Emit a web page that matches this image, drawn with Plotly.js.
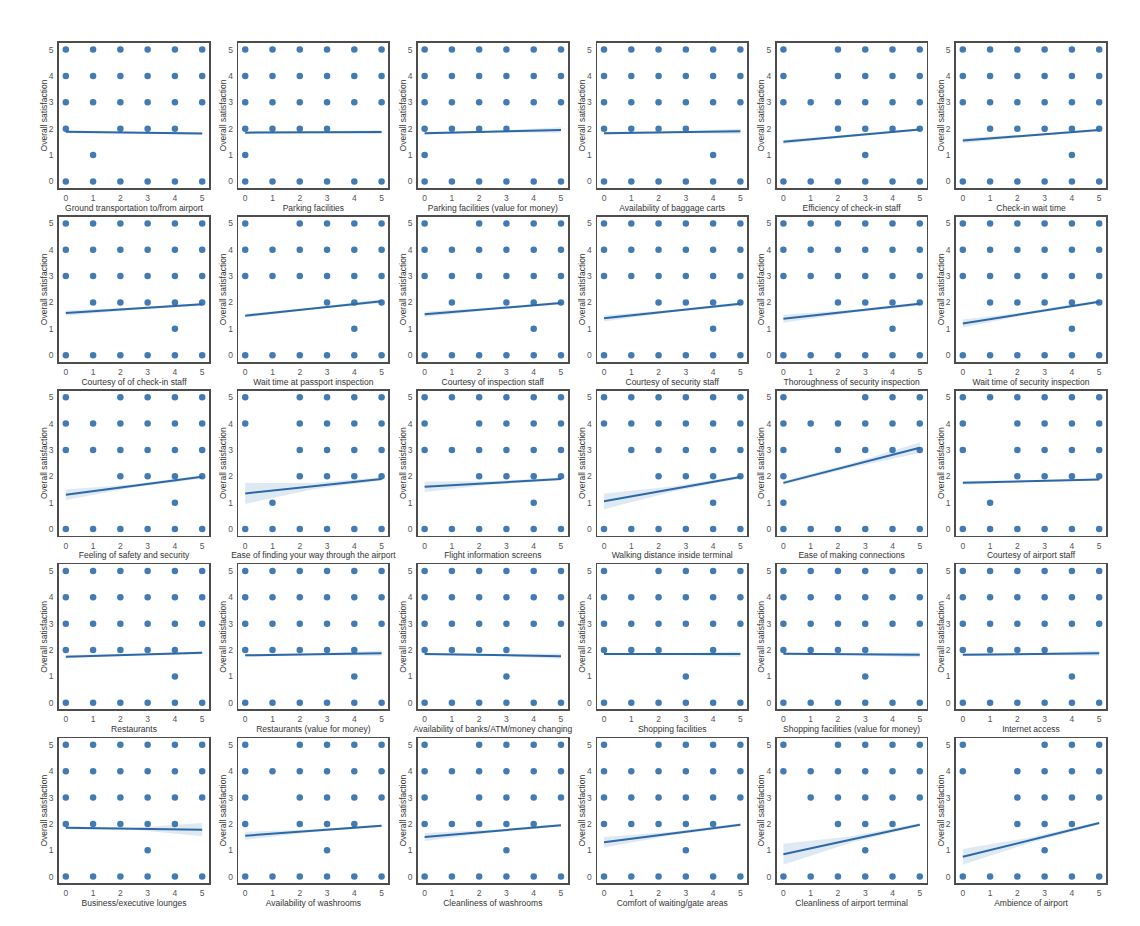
<!DOCTYPE html>
<html>
<head>
<meta charset="utf-8">
<script src="https://cdn.plot.ly/plotly-3.0.1.min.js"></script>
<style>html,body{margin:0;padding:0;background:#fff;}#chart{width:1140px;height:926px;}</style>
</head>
<body>
<div id="chart"></div>
<script>
const features = [
  "Ground transportation to/from airport","Parking facilities","Parking facilities (value for money)","Availability of baggage carts","Efficiency of check-in staff","Check-in wait time",
  "Courtesy of of check-in staff","Wait time at passport inspection","Courtesy of inspection staff","Courtesy of security staff","Thoroughness of security inspection","Wait time of security inspection",
  "Feeling of safety and security","Ease of finding your way through the airport","Flight information screens","Walking distance inside terminal","Ease of making connections","Courtesy of airport staff",
  "Restaurants","Restaurants (value for money)","Availability of banks/ATM/money changing","Shopping facilities","Shopping facilities (value for money)","Internet access",
  "Business/executive lounges","Availability of washrooms","Cleanliness of washrooms","Comfort of waiting/gate areas","Cleanliness of airport terminal","Ambience of airport"
];
const yLabel = "Overall satisfaction";
const ratingLevels = [0,1,2,3,4,5];

// x ratings observed for each overall satisfaction level, per subplot
const xAtY5 = [
  [0,1,2,3,4,5],[0,1,2,3,4,5],[0,1,2,3,4,5],[0,1,2,3,4,5],[0,2,3,4,5],[0,1,2,3,4,5],
  [0,1,2,3,4,5],[0,2,3,4,5],[0,2,3,4,5],[0,1,2,3,4,5],[0,1,2,3,4,5],[0,1,2,3,4,5],
  [0,2,3,4,5],[0,2,3,4,5],[0,1,2,3,4,5],[0,1,2,3,4,5],[0,3,4,5],[0,1,2,3,4,5],
  [0,1,2,3,4,5],[0,1,2,3,4,5],[0,1,2,3,4,5],[0,2,3,4,5],[0,1,2,3,4,5],[0,1,2,3,4,5],
  [0,1,2,3,4,5],[0,2,3,4,5],[0,2,3,4,5],[0,2,3,4,5],[0,2,3,4,5],[0,3,4,5]
];
const xAtY4 = [
  [0,1,2,3,4,5],[0,1,2,3,4,5],[0,1,2,3,4,5],[0,1,2,3,4,5],[0,2,3,4,5],[0,1,2,3,4,5],
  [0,1,2,3,4,5],[0,1,2,3,4,5],[0,1,2,3,4,5],[0,1,2,3,4,5],[0,1,2,3,4,5],[0,1,2,3,4,5],
  [0,1,2,3,4,5],[0,2,3,4,5],[0,2,3,4,5],[0,1,2,3,4,5],[0,1,2,3,4,5],[0,2,3,4,5],
  [0,1,2,3,4,5],[0,1,2,3,4,5],[0,1,2,3,4,5],[0,1,2,3,4,5],[0,1,2,3,4,5],[0,1,2,3,4,5],
  [0,1,2,3,4,5],[0,1,2,3,4,5],[0,1,2,3,4,5],[0,1,2,3,4,5],[0,1,2,3,4,5],[0,2,3,4,5]
];
const xAtY3 = [
  [0,1,2,3,4,5],[0,1,2,3,4,5],[0,1,2,3,4,5],[0,1,2,3,4,5],[0,1,2,3,4,5],[0,1,2,3,4,5],
  [0,1,2,3,4,5],[0,1,2,3,4,5],[0,1,2,3,4,5],[0,1,2,3,4,5],[0,1,2,3,4,5],[0,1,2,3,4,5],
  [0,1,2,3,4,5],[2,3,4,5],[0,1,2,3,4,5],[1,2,3,4,5],[0,2,3,4,5],[0,2,3,4,5],
  [0,1,2,3,4,5],[0,1,2,3,4,5],[0,1,2,3,4,5],[0,1,2,3,4,5],[0,1,2,3,4,5],[0,1,2,3,4,5],
  [0,1,2,3,4,5],[0,2,3,4,5],[0,2,3,4,5],[0,1,2,3,4,5],[1,2,3,4,5],[2,3,4,5]
];
const xAtY2 = [
  [0,2,3,4],[0,1,2,3],[0,1,2,3],[0,1,2,3],[2,3,4,5],[1,2,3,4,5],
  [1,2,3,4,5],[3,4,5],[1,3,4,5],[2,3,4,5],[2,3,4,5],[1,2,3,4,5],
  [2,3,4,5],[2,3,4,5],[2,3,4,5],[2,3,4,5],[0],[2,3,4,5],
  [0,1,2,3,4],[0,1,2,3,4],[0,1,2,3],[0,1,2,4],[0,1,2,3],[0,1,2,3],
  [0,1,2,3,4],[0,2,3,4],[0,1,2,3,4],[0,1,2,3,4],[2,3,4],[2,3,4]
];
const xAtY1 = [
  [1],[0],[0],[4],[3],[4],
  [4],[4],[4],[4],[4],[4],
  [4],[1],[4],[4],[0],[1],
  [4],[4],[3],[3],[3],[4],
  [3],[3],[3],[3],[3],[3]
];
const xAtY0 = Array.from({length:30}, () => [0,1,2,3,4,5]);

// regression fit values at x=0 and x=5
const fitAt0 = [1.88,1.85,1.83,1.83,1.50,1.55, 1.60,1.50,1.55,1.40,1.38,1.20, 1.30,1.35,1.60,1.05,1.75,1.75, 1.75,1.80,1.85,1.85,1.86,1.82, 1.85,1.55,1.50,1.30,0.85,0.75];
const fitAt5 = [1.82,1.87,1.95,1.90,1.97,1.95, 1.93,2.05,1.98,1.95,1.95,2.03, 1.98,1.90,1.90,1.97,3.08,1.88, 1.90,1.88,1.77,1.85,1.82,1.88, 1.78,1.93,1.95,1.97,1.97,2.03];
// confidence band half widths at x=0, 2.5, 5
const ciAt0 = [0.05,0.05,0.05,0.05,0.08,0.10, 0.10,0.07,0.10,0.12,0.15,0.15, 0.20,0.40,0.20,0.30,0.07,0.07, 0.06,0.05,0.05,0.05,0.05,0.05, 0.05,0.15,0.15,0.20,0.40,0.30];
const ciAtMid = [0.03,0.03,0.03,0.03,0.04,0.04, 0.04,0.03,0.04,0.04,0.05,0.05, 0.06,0.12,0.06,0.10,0.08,0.03, 0.03,0.03,0.03,0.03,0.03,0.03, 0.04,0.05,0.05,0.07,0.12,0.10];
const ciAt5 = [0.05,0.07,0.10,0.10,0.05,0.05, 0.05,0.07,0.06,0.06,0.06,0.06, 0.06,0.06,0.05,0.05,0.20,0.04, 0.06,0.10,0.10,0.10,0.10,0.10, 0.25,0.05,0.05,0.05,0.05,0.05];

const NC = 6, NR = 5, W = 1140, H = 926;
const colLeft0 = 59, colStep = 179.4, axW = 150;
const rowTop0 = 43, rowStep = 173.8, axH = 145;
const dotColor = 'rgba(40,104,168,0.88)';
const lineColor = '#2d68a6';
const bandColor = 'rgba(60,125,190,0.17)';

const traces = [];
const layout = {
  width: W, height: H, margin: {l:0, r:0, t:0, b:0},
  paper_bgcolor: '#fff', plot_bgcolor: '#fff', showlegend: false,
  font: {family: 'Liberation Sans, Arial, sans-serif', color: '#333'}
};
const levelLists = [xAtY0, xAtY1, xAtY2, xAtY3, xAtY4, xAtY5];

for (let k = 0; k < features.length; k++) {
  const r = Math.floor(k / NC), c = k % NC;
  const sfx = k === 0 ? '' : String(k + 1);
  const xa = 'x' + sfx, ya = 'y' + sfx;
  const xs = [], ys = [];
  ratingLevels.forEach((lvl, li) => {
    levelLists[li][k].forEach(xv => { xs.push(xv); ys.push(lvl); });
  });
  const slope = (fitAt5[k] - fitAt0[k]) / 5;
  const fx = x => fitAt0[k] + slope * x;
  const bx = [0, 2.5, 5];
  const hw = [ciAt0[k], ciAtMid[k], ciAt5[k]];
  const upper = bx.map((x, i) => fx(x) + hw[i]);
  const lower = bx.map((x, i) => fx(x) - hw[i]);
  traces.push({
    type: 'scatter', mode: 'lines', xaxis: xa, yaxis: ya,
    x: bx.concat(bx.slice().reverse()), y: upper.concat(lower.slice().reverse()),
    fill: 'toself', fillcolor: bandColor, line: {width: 0}, hoverinfo: 'skip'
  });
  traces.push({
    type: 'scatter', mode: 'markers', xaxis: xa, yaxis: ya, x: xs, y: ys,
    marker: {size: 6.5, color: dotColor, line: {width: 0}}
  });
  traces.push({
    type: 'scatter', mode: 'lines', xaxis: xa, yaxis: ya, x: [0, 5], y: [fitAt0[k], fitAt5[k]],
    line: {color: lineColor, width: 2}
  });
  const left = colLeft0 + c * colStep, top = rowTop0 + r * rowStep;
  const common = {
    showgrid: false, zeroline: false, showline: true, mirror: true,
    linecolor: '#4d4d4d', linewidth: 1.7, ticks: '', range: [-0.25, 5.25],
    tickvals: ratingLevels, tickfont: {size: 8.5, color: '#555'}
  };
  layout['xaxis' + sfx] = Object.assign({}, common, {
    domain: [left / W, (left + axW) / W], anchor: ya,
    title: {text: features[k], font: {size: 8.5, color: '#333'}, standoff: 0},
    ticklabelstandoff: 1
  });
  layout['yaxis' + sfx] = Object.assign({}, common, {
    domain: [1 - (top + axH) / H, 1 - top / H], anchor: xa,
    title: {text: yLabel, font: {size: 8.5, color: '#333'}, standoff: 0},
    ticklabelstandoff: 2
  });
}

Plotly.newPlot('chart', traces, layout, {staticPlot: true, displayModeBar: false});
</script>
</body>
</html>
